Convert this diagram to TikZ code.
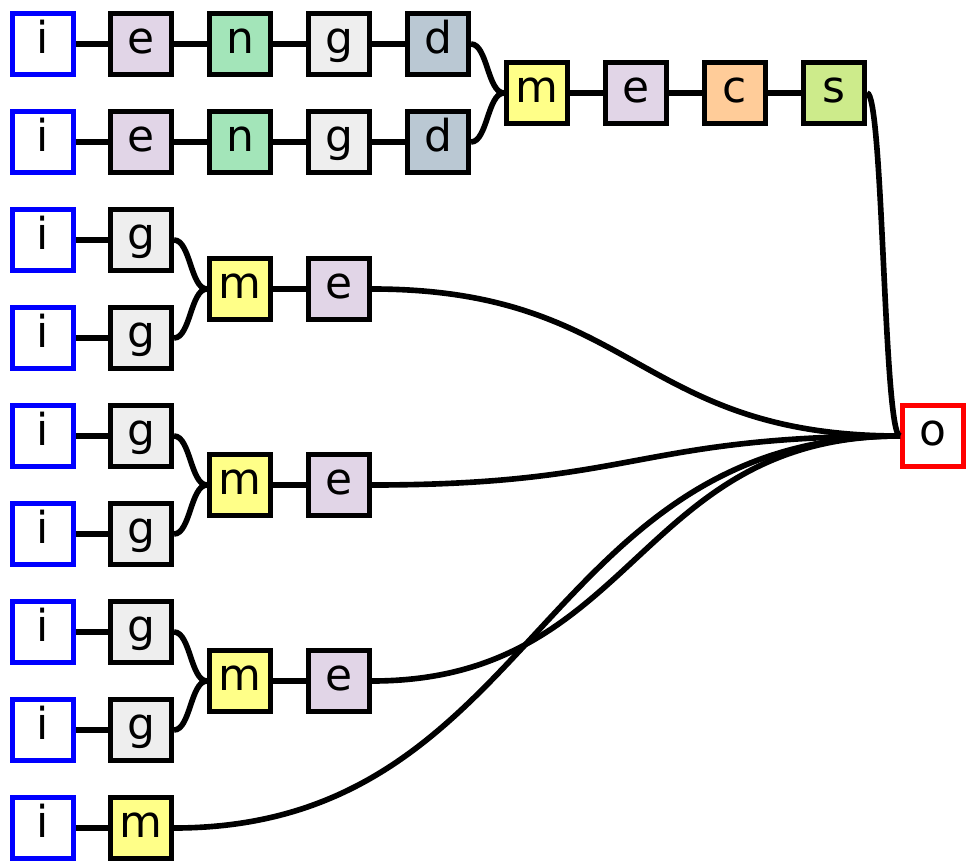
\documentclass[tikz,border=0pt]{standalone}
\usepackage{fontspec}
\setmainfont{DejaVu Sans}
\usetikzlibrary{positioning,calc}
\definecolor{colE}{HTML}{E1D5E7}
\definecolor{colN}{HTML}{A3E5B9}
\definecolor{colG}{HTML}{EEEEEE}
\definecolor{colD}{HTML}{BAC8D3}
\definecolor{colM}{HTML}{FFFF88}
\definecolor{colC}{HTML}{FFCC99}
\definecolor{colS}{HTML}{CDEB8B}

\begin{document}
\begin{tikzpicture}[x=0.01cm, y=-0.01cm, box/.style = {rectangle, draw, line width=1.4pt, minimum size=0.61cm, inner sep=0pt, font=\fontsize{12.5}{14}\selectfont, text height=0.8em, text depth=0.25em}, inbox/.style = {box, draw=blue, fill=white}, outbox/.style = {box, draw=red, fill=white}, every edge/.append style={line width=1.6pt}, link/.style = {to path={let \p1=(\tikztostart), \p2=(\tikztotarget) in .. controls (\x1/2+\x2/2,\y1) and (\x1/2+\x2/2,\y2) .. (\p2)}}]
\useasboundingbox (0,0) rectangle (976,867);

% first two chains
\foreach \r/\y in {1/44, 2/142} {
\node[inbox] (i\r) at (43,\y) {i};
\node[box, fill=colE] (e\r) at (141,\y) {e};
\node[box, fill=colN] (n\r) at (240,\y) {n};
\node[box, fill=colG] (g\r) at (339,\y) {g};
\node[box, fill=colD] (d\r) at (438,\y) {d};
\path (i\r) edge (e\r) (e\r) edge (n\r) (n\r) edge (g\r) (g\r) edge (d\r);
}
\node[box, fill=colM] (m1) at (537,93) {m};
\node[box, fill=colE] (e3) at (636,93) {e};
\node[box, fill=colC] (c1) at (735,93) {c};
\node[box, fill=colS] (s1) at (834,93) {s};
\node[outbox] (o) at (933,436) {o};

\path
 (d1.east) edge[link] (m1.west)
 (d2.east) edge[link] (m1.west)
 (m1) edge (e3)
 (e3) edge (c1)
 (c1) edge (s1)
 (s1.east) edge[link] (o.west);

% pairs merged
\foreach \k/\y in {4/240, 5/436, 6/632} {
\node[inbox] (ia\k) at (43,\y) {i};
\node[inbox] (ib\k) at (43,\y+98) {i};
\node[box, fill=colG] (ga\k) at (141,\y) {g};
\node[box, fill=colG] (gb\k) at (141,\y+98) {g};
\node[box, fill=colM] (m\k) at (240,\y+49) {m};
\node[box, fill=colE] (e\k) at (339,\y+49) {e};
\path
 (ia\k) edge (ga\k)
 (ib\k) edge (gb\k)
 (ga\k.east) edge[link] (m\k.west)
 (gb\k.east) edge[link] (m\k.west)
 (m\k) edge (e\k)
 (e\k.east) edge[link] (o.west);
}

% last row
\node[inbox] (i9) at (43,828) {i};
\node[box, fill=colM] (m9) at (141,828) {m};
\path
 (i9) edge (m9)
 (m9.east) edge[link] (o.west);
\end{tikzpicture}
\end{document}
